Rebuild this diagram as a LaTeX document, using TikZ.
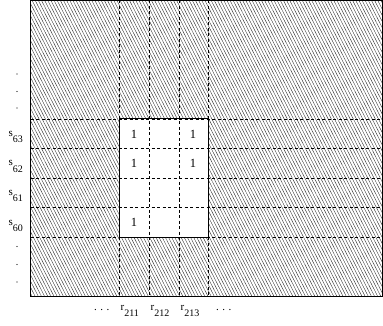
\documentclass[tikz,border=0pt]{standalone}
\usepackage{fontspec}
\setmainfont{Liberation Serif}
\usetikzlibrary{patterns.meta}
\begin{document}
\begin{tikzpicture}[x=1pt,y=-1pt,
  hatch/.style={pattern={Lines[angle=-63,distance=2.8pt,line width=0.38pt]}, pattern color=black!85},
  gridline/.style={dash pattern=on 3pt off 2.5pt, line width=0.8pt},
  lab/.style={font=\fontsize{11}{13}\selectfont, inner sep=0pt, anchor=base west},
  one/.style={font=\fontsize{12.5}{14}\selectfont, inner sep=0pt},
  dot/.style={circle, fill=black, inner sep=0pt, minimum size=1.4pt}]
\useasboundingbox (0,0) rectangle (383,326);
\coordinate (TL) at (30.5,0.5);
\coordinate (BR) at (382.5,296);
\fill[hatch] (TL) rectangle (BR);
\coordinate (wTL) at (119,119);
\coordinate (wBR) at (208,237);
\fill[white] (wTL) rectangle (wBR);
\foreach \x [count=\i] in {119,149,179,208} {
  \coordinate (vt\i) at (\x,0.5);
  \coordinate (vb\i) at (\x,296);
  \draw[gridline] (vt\i) -- (vb\i);
}
\foreach \y [count=\i] in {119,148,178,207,237} {
  \coordinate (hl\i) at (30.5,\y);
  \coordinate (hr\i) at (382.5,\y);
  \draw[gridline] (hl\i) -- (hr\i);
}
\draw[line width=1pt] (wTL) rectangle (wBR);
\draw[line width=0.9pt] (TL) rectangle (BR);
% ones
\node[one] (o1) at (134,134) {1};
\node[one] (o2) at (193,134) {1};
\node[one] (o3) at (134,163) {1};
\node[one] (o4) at (193,163) {1};
\node[one] (o5) at (134,222) {1};
% row labels
\foreach \n/\y in {63/137,62/166,61/195,60/225} {
  \node[lab] (s\n) at (8.5,\y) {s\raisebox{-6pt}{\fontsize{10}{12}\selectfont\n}};
}
% column labels
\foreach \n/\x in {211/120.5,212/150.5,213/180.5} {
  \node[lab] (r\n) at (\x,310) {r\raisebox{-6.5pt}{\fontsize{10}{12}\selectfont\n}};
}
\node[lab] (dl) at (94,310) {.\hspace{3.5pt}.\hspace{3.5pt}.};
\node[lab] (dr) at (216,310) {.\hspace{3.5pt}.\hspace{3.5pt}.};
% vertical dots
\foreach \y [count=\i] in {74,91.5,108,246.5,264.5,282} {
  \node[dot] (vd\i) at (17,\y) {};
}
\end{tikzpicture}
\end{document}
